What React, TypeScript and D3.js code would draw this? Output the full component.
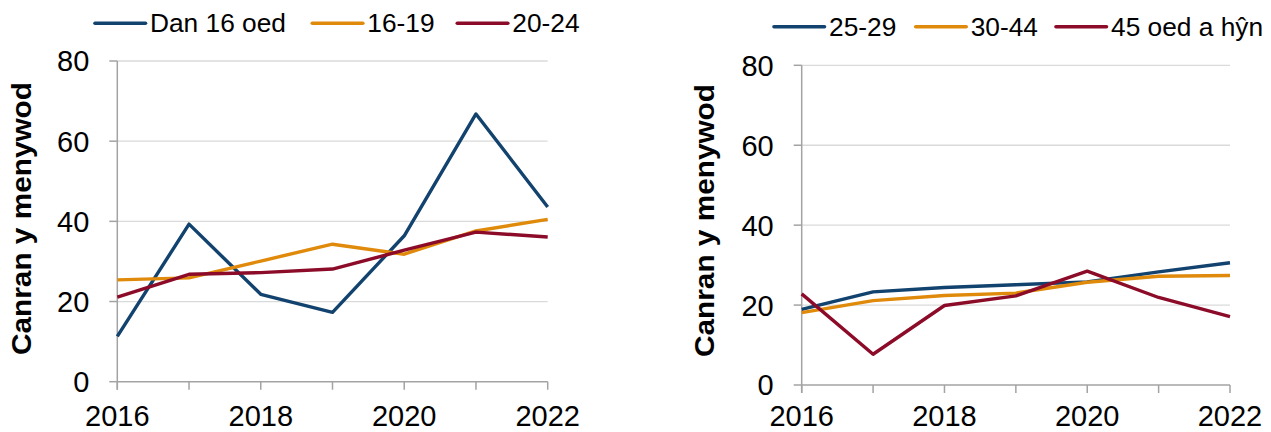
import React from "react";
import * as d3 from "d3";

// ---------- data ----------
const years = [2016, 2017, 2018, 2019, 2020, 2021, 2022];
const xTickLabels = [2016, 2018, 2020, 2022];
const yTicks = [0, 20, 40, 60, 80];

const leftNames = ["Dan 16 oed", "16-19", "20-24"];
const under16 = [11.3, 39.3, 21.8, 17.3, 36.4, 66.8, 43.6];
const age16to19 = [25.4, 25.9, 30.1, 34.3, 31.8, 37.6, 40.5];
const age20to24 = [21.1, 26.8, 27.2, 28.1, 32.8, 37.3, 36.1];

const rightNames = ["25-29", "30-44", "45 oed a hŷn"];
const age25to29 = [18.9, 23.3, 24.4, 25.1, 25.8, 28.3, 30.6];
const age30to44 = [18.1, 21.1, 22.4, 23.0, 25.7, 27.2, 27.4];
const age45plus = [22.8, 7.7, 19.9, 22.3, 28.5, 21.9, 17.1];

const yTitle = "Canran y menywod";

// ---------- styles ----------
const COLORS = ["#12426E", "#E08A0B", "#8B0B28"];
const FONT = "'Liberation Sans', Arial, Helvetica, sans-serif";
const AXIS = "#A3A3A3";
const GRID = "#DADADA";

type PanelProps = {
  x0: number;
  x1: number;
  yTop: number;
  yBottom: number;
  series: number[][];
  names: string[];
  legendX: number[];
  legendY: number;
  titleX: number;
  titleY: number;
  xLabelOffset: number;
};

function Panel(p: PanelProps) {
  const x = d3.scaleLinear().domain([2016, 2022]).range([p.x0, p.x1]);
  const y = d3.scaleLinear().domain([0, 80]).range([p.yBottom, p.yTop]);
  const line = d3
    .line<number>()
    .x((_, i) => x(years[i]))
    .y((d) => y(d));
  const tick = 8;
  return (
    <g>
      {/* gridlines */}
      {yTicks
        .filter((t) => t > 0)
        .map((t) => (
          <line
            key={"g" + t}
            x1={p.x0}
            x2={p.x1}
            y1={y(t)}
            y2={y(t)}
            stroke={GRID}
            strokeWidth={1.3}
          />
        ))}
      {/* y axis */}
      <line x1={p.x0} x2={p.x0} y1={y(80)} y2={y(0) + tick} stroke={AXIS} strokeWidth={1.5} />
      {yTicks.map((t) => (
        <g key={"yt" + t}>
          <line x1={p.x0 - tick} x2={p.x0} y1={y(t)} y2={y(t)} stroke={AXIS} strokeWidth={1.5} />
          <text
            x={p.x0 - 28}
            y={y(t)}
            dy="0.36em"
            textAnchor="end"
            fontSize={29}
            fontFamily={FONT}
            fill="#000"
          >
            {t}
          </text>
        </g>
      ))}
      {/* x axis */}
      <line x1={p.x0} x2={p.x1} y1={y(0)} y2={y(0)} stroke={AXIS} strokeWidth={1.5} />
      {years.map((yr) => (
        <line
          key={"xt" + yr}
          x1={x(yr)}
          x2={x(yr)}
          y1={y(0)}
          y2={y(0) + tick}
          stroke={AXIS}
          strokeWidth={1.5}
        />
      ))}
      {xTickLabels.map((yr) => (
        <text
          key={"xl" + yr}
          x={x(yr)}
          y={y(0) + p.xLabelOffset}
          textAnchor="middle"
          fontSize={29}
          fontFamily={FONT}
          fill="#000"
        >
          {yr}
        </text>
      ))}
      {/* series */}
      {p.series.map((s, i) => (
        <path
          key={"s" + i}
          d={line(s) || ""}
          fill="none"
          stroke={COLORS[i]}
          strokeWidth={3.4}
          strokeLinejoin="round"
        />
      ))}
      {/* legend */}
      {p.names.map((n, i) => (
        <g key={"l" + i}>
          <line
            x1={p.legendX[i]}
            x2={p.legendX[i] + 50.5}
            y1={p.legendY}
            y2={p.legendY}
            stroke={COLORS[i]}
            strokeWidth={3.6}
            strokeLinecap="round"
          />
          <text
            x={p.legendX[i] + 55}
            y={p.legendY + 9}
            fontSize={26.3}
            fontFamily={FONT}
            fill="#000"
          >
            {n}
          </text>
        </g>
      ))}
      {/* y title */}
      <text
        transform={`translate(${p.titleX},${p.titleY}) rotate(-90)`}
        textAnchor="middle"
        fontSize={27}
        fontWeight="bold"
        fontFamily={FONT}
        fill="#000"
        textLength={273}
        lengthAdjust="spacingAndGlyphs"
      >
        {yTitle}
      </text>
    </g>
  );
}

export default function App() {
  return (
    <div style={{ position: "absolute", left: 0, top: 0 }}>
      <svg width={1271} height={432} style={{ display: "block", background: "#fff" }}>
        <Panel
          x0={117.3}
          x1={547.7}
          yTop={61}
          yBottom={381.7}
          series={[under16, age16to19, age20to24]}
          names={leftNames}
          legendX={[95, 312.3, 457.3]}
          legendY={23.3}
          titleX={31}
          titleY={218.5}
          xLabelOffset={44}
        />
        <Panel
          x0={801.7}
          x1={1230}
          yTop={65.3}
          yBottom={385}
          series={[age25to29, age30to44, age45plus]}
          names={rightNames}
          legendX={[774, 915.7, 1056]}
          legendY={26.7}
          titleX={714}
          titleY={220.5}
          xLabelOffset={40.5}
        />
      </svg>
    </div>
  );
}
